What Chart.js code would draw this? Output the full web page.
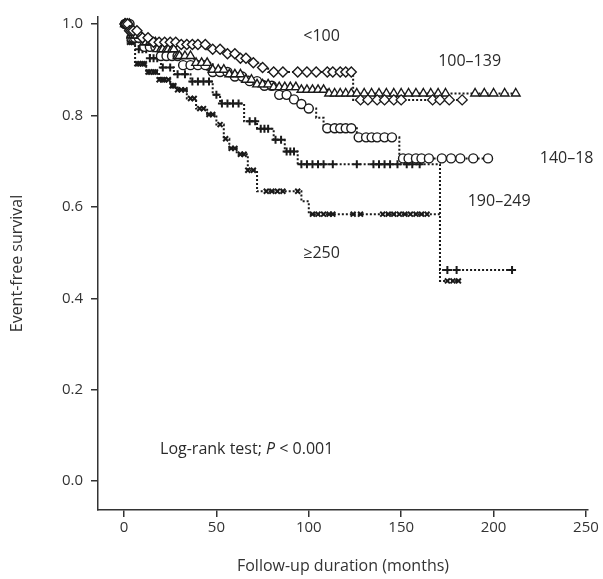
<!DOCTYPE html>
<html>
<head>
<meta charset="utf-8">
<script src="https://cdn.jsdelivr.net/npm/chart.js@4"></script>
<style>
  body { margin: 0; background: #fff; }
  #wrap { width: 603px; height: 579px; }
</style>
</head>
<body>
<div id="wrap"><canvas id="grafico" width="603" height="579"></canvas></div>
<script>
// tick labels
const xTicks = [0, 50, 100, 150, 200, 250];
const yTicks = [0.0, 0.2, 0.4, 0.6, 0.8, 1.0];

// group names (as labelled on the plot)
const groups = ['<100', '100–139', '140–189', '190–249', '≥250'];

// Kaplan-Meier steps: time (months) and survival after each drop
const tLt100 = [0, 3, 8, 15, 30, 45, 55, 62, 68, 74, 78, 124, 186];
const sLt100 = [1.0, 0.985, 0.97, 0.96, 0.955, 0.945, 0.935, 0.925, 0.915, 0.905, 0.895, 0.834, 0.834];
const cLt100 = [0.5, 1, 2, 3, 4, 5, 7, 10, 13, 16, 19, 22, 25, 28, 31, 34, 37, 40, 44, 48, 52, 56, 60, 63, 66, 70, 75, 81, 86, 94, 99, 104, 110, 113, 117, 120, 123,
  128, 132, 137, 141, 146, 150, 167, 171, 176, 183];

const t100 = [0, 4, 10, 18, 28, 38, 48, 56, 64, 72, 80, 95, 110, 213];
const s100 = [1.0, 0.975, 0.96, 0.945, 0.93, 0.915, 0.9, 0.89, 0.878, 0.868, 0.862, 0.856, 0.848, 0.848];
const c100 = [0.5, 1, 2, 3, 4, 5, 6, 7, 9, 11, 12, 14, 15, 17, 18, 20, 21, 23, 24, 26, 27, 29, 30, 33, 36, 39, 42, 45, 48, 51, 54, 57, 60, 63, 66, 69, 72, 75, 78, 81, 84, 87, 90, 93, 96, 99,
  102, 105, 108, 111, 114, 117, 120, 123, 126, 130, 134, 138, 142, 146, 150, 154, 158, 162, 166, 170, 174, 190, 195, 200, 206, 212];

const t140 = [0, 4, 10, 20, 32, 45, 57, 68, 76, 84, 90, 95, 99, 104, 108, 126, 149, 198];
const s140 = [1.0, 0.97, 0.95, 0.93, 0.91, 0.895, 0.885, 0.875, 0.865, 0.845, 0.835, 0.825, 0.815, 0.795, 0.772, 0.752, 0.706, 0.706];
const c140 = [0.5, 1, 2, 3, 4, 5, 6, 8, 11, 14, 17, 20, 23, 26, 29, 32, 36, 40, 44, 48, 52, 56, 60, 64, 68, 72, 76, 80, 84, 88, 92, 96, 100,
  110, 114, 117, 120, 123, 127, 131, 134, 137, 141, 145, 151, 154, 158, 161, 165, 172, 177, 182, 189, 197];

const t190 = [0, 3, 8, 14, 20, 27, 36, 48, 52, 65, 72, 81, 87, 94, 171, 210];
const s190 = [1.0, 0.97, 0.945, 0.925, 0.905, 0.89, 0.874, 0.845, 0.826, 0.787, 0.771, 0.747, 0.721, 0.693, 0.462, 0.462];
const c190 = [1, 2, 4, 6, 8, 10, 12, 14, 16, 18, 21, 25, 29, 33, 37, 40, 43, 46, 50, 53, 56, 59, 62, 68, 71, 74, 76, 78, 82, 85, 88, 90, 92,
  96, 99, 102, 105, 108, 113, 126, 135, 138, 141, 144, 148, 153, 156, 160, 175, 180, 210];

const t250 = [0, 2, 6, 12, 19, 25, 29, 34, 39, 45, 50, 54, 57, 61, 67, 72, 96, 100, 171, 182];
const s250 = [1.0, 0.96, 0.913, 0.895, 0.878, 0.865, 0.856, 0.837, 0.815, 0.802, 0.78, 0.749, 0.728, 0.715, 0.68, 0.634, 0.612, 0.584, 0.438, 0.438];
const c250 = [0.5, 1, 1.5, 3, 4, 5, 7, 8, 10, 11, 13, 14, 16, 17, 19, 21, 22, 24, 26, 27, 29, 31, 33, 36, 38, 41, 43, 46, 48, 52, 55, 58, 60, 63, 65, 67, 70, 77, 80, 83, 86, 94,
  102, 105, 108, 111, 113, 124, 128, 140, 143, 146, 149, 152, 155, 158, 161, 164, 175, 178, 181];

// survival value of a step curve at time t
function stepAt(ts, ss, t) {
  let v = ss[0];
  for (let i = 0; i < ts.length; i++) {
    if (ts[i] <= t) v = ss[i];
  }
  return v;
}

const curves = [
  { t: tLt100, s: sLt100, c: cLt100, shape: 'rectRot', r: 5, w: 1.4 },
  { t: t100, s: s100, c: c100, shape: 'triangle', r: 5, w: 1.4 },
  { t: t140, s: s140, c: c140, shape: 'circle', r: 4.5, w: 1.4 },
  { t: t190, s: s190, c: c190, shape: 'cross', r: 4, w: 2 },
  { t: t250, s: s250, c: c250, shape: 'crossRot', r: 3.5, w: 2 }
];

let datasets = [];
curves.forEach((cv, i) => {
  datasets.push({
    label: groups[i],
    data: cv.t.map((t, k) => ({ x: t, y: cv.s[k] })),
    stepped: 'before',
    borderColor: '#1a1a1a',
    borderWidth: 2,
    borderDash: [2, 2],
    pointRadius: 0,
    fill: false,
    order: 2
  });
  datasets.push({
    label: groups[i] + ' censored',
    data: cv.c.map(t => ({ x: t, y: stepAt(cv.t, cv.s, t) })),
    showLine: false,
    pointStyle: cv.shape,
    pointRadius: cv.r,
    pointBorderColor: '#1a1a1a',
    pointBackgroundColor: '#ffffff',
    pointBorderWidth: cv.w,
    order: 1
  });
});

// text on the plot, placed in data units (left edge, vertical middle)
const notes = [
  { text: '<100', x: 97, y: 0.972 },
  { text: '100–139', x: 170, y: 0.917 },
  { text: '140–18', x: 225, y: 0.706 },
  { text: '190–249', x: 186, y: 0.612 },
  { text: '≥250', x: 97, y: 0.499 }
];
const testPos = { x: 19.5, y: 0.07 };

const fontFam = "'Open Sans', 'DejaVu Sans', sans-serif";

const notesPlugin = {
  id: 'notes',
  afterDatasetsDraw(chart) {
    const ctx = chart.ctx;
    const xs = chart.scales.x, ys = chart.scales.y;
    ctx.save();
    ctx.fillStyle = '#2a2a2a';
    ctx.textBaseline = 'middle';
    ctx.textAlign = 'left';
    ctx.font = '16px ' + fontFam;
    notes.forEach(n => {
      ctx.fillText(n.text, xs.getPixelForValue(n.x), ys.getPixelForValue(n.y));
    });
    // log-rank note with italic P
    let px = xs.getPixelForValue(testPos.x);
    let py = ys.getPixelForValue(testPos.y);
    let parts = [['Log-rank test; ', 'normal'], ['P', 'italic'], [' < 0.001', 'normal']];
    parts.forEach(p => {
      ctx.font = p[1] + ' 16px ' + fontFam;
      ctx.fillText(p[0], px, py);
      px += ctx.measureText(p[0]).width;
    });
    ctx.restore();
  }
};

new Chart(document.getElementById('grafico'), {
  type: 'line',
  data: { datasets: datasets },
  options: {
    responsive: false,
    animation: false,
    devicePixelRatio: 1,
    layout: { padding: { top: 15, right: 15, left: 0, bottom: 0 } },
    plugins: { legend: { display: false }, tooltip: { enabled: false } },
    scales: {
      x: {
        type: 'linear',
        min: -14.07,
        max: 251.1,
        afterBuildTicks: s => { s.ticks = xTicks.map(v => ({ value: v })); },
        afterFit: s => { s.height = 69; },
        ticks: { color: '#333', font: { family: fontFam, size: 15 }, padding: 2 },
        grid: { drawOnChartArea: false, drawTicks: true, tickLength: 7, color: '#333', lineWidth: 1.5 },
        border: { color: '#333', width: 1.5 },
        title: { display: true, text: 'Follow-up duration (months)', color: '#333',
                 font: { family: fontFam, size: 16 }, padding: { top: 0, bottom: 3 } }
      },
      y: {
        type: 'linear',
        min: -0.0632,
        max: 1.0153,
        afterBuildTicks: s => { s.ticks = yTicks.map(v => ({ value: v })); },
        afterFit: s => { s.width = 98; },
        ticks: { color: '#333', font: { family: fontFam, size: 15 }, padding: 8,
                 callback: v => v.toFixed(1) },
        grid: { drawOnChartArea: false, drawTicks: true, tickLength: 7, color: '#333', lineWidth: 1.5 },
        border: { color: '#333', width: 1.5 },
        title: { display: true, text: 'Event-free survival', color: '#333',
                 font: { family: fontFam, size: 16 }, padding: { top: 8, bottom: 0 } }
      }
    }
  },
  plugins: [notesPlugin]
});
</script>
</body>
</html>
